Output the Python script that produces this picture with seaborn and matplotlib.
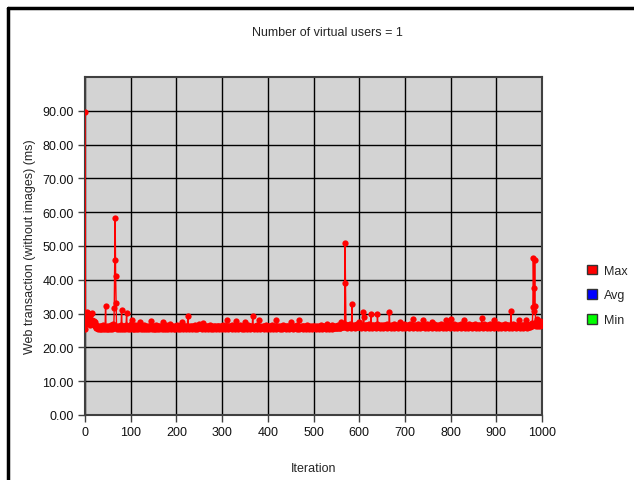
import numpy as np
import pandas as pd
import matplotlib
matplotlib.use("Agg")
import matplotlib.pyplot as plt
from matplotlib.patches import Patch
from matplotlib.lines import Line2D
import seaborn as sns

# web transaction time (ms) per iteration, 25 per row
max_ms = [
    89.7, 25.5, 27.0, 28.5, 30.4, 29.0, 27.5, 30.2, 28.0, 29.5, 27.0, 28.5, 26.5, 29.8, 27.5, 30.1, 28.0, 26.8, 27.8, 26.5, 27.9, 26.2, 27.5, 26.0, 25.8,
    26.5, 25.6, 26.1, 25.4, 26.3, 25.7, 26.0, 25.5, 26.4, 25.8, 25.3, 26.2, 25.6, 26.0, 25.4, 26.5, 25.7, 25.9, 25.5, 26.1, 32.2, 25.6, 26.0, 25.4, 26.3,
    25.8, 25.5, 26.2, 25.6, 26.0, 25.4, 26.6, 25.7, 25.9, 25.5, 26.3, 25.6, 26.8, 25.7, 31.6, 46.0, 58.2, 41.0, 33.0, 26.0, 25.5, 26.4, 25.7, 26.1, 25.5,
    26.2, 25.6, 26.0, 25.4, 26.5, 31.0, 25.7, 26.1, 25.5, 26.3, 25.8, 26.0, 25.4, 26.2, 25.6, 26.7, 30.3, 25.8, 26.1, 25.5, 26.4, 25.7, 26.0, 25.4, 26.3,
    25.6, 26.9, 26.0, 28.2, 25.5, 26.3, 25.7, 26.0, 25.4, 26.5, 25.8, 26.1, 25.5, 26.2, 25.6, 26.0, 25.4, 26.6, 25.7, 26.1, 27.5, 25.6, 26.2, 25.5, 26.0,
    25.7, 26.3, 25.4, 26.0, 25.6, 26.5, 25.5, 26.1, 25.8, 26.2, 25.4, 26.0, 25.6, 26.4, 25.5, 26.1, 25.7, 26.3, 25.6, 26.0, 27.7, 25.5, 26.2, 25.7, 26.0,
    25.4, 26.3, 25.6, 26.1, 25.5, 26.6, 25.7, 26.0, 25.4, 26.2, 25.8, 26.0, 25.5, 26.4, 25.6, 26.1, 25.7, 26.2, 25.5, 26.0, 27.4, 25.6, 26.3, 25.5, 26.0,
    25.7, 26.2, 25.4, 26.5, 25.6, 26.0, 25.5, 26.3, 25.7, 26.1, 27.0, 25.6, 26.2, 25.5, 26.0, 25.8, 26.4, 25.6, 26.1, 25.5, 26.3, 25.7, 26.0, 25.4, 26.2,
    25.6, 26.5, 25.7, 26.0, 25.5, 26.3, 25.8, 26.1, 25.4, 26.2, 25.6, 26.6, 27.5, 25.7, 26.2, 25.5, 26.0, 25.6, 26.4, 25.7, 26.1, 25.5, 26.3, 25.6, 26.0,
    29.4, 25.7, 26.2, 25.5, 26.1, 25.6, 26.4, 25.7, 26.0, 25.5, 26.3, 25.8, 26.1, 25.6, 26.2, 25.5, 26.5, 25.7, 26.0, 25.6, 26.3, 25.5, 26.1, 25.7, 26.2,
    27.0, 25.8, 26.4, 25.6, 26.1, 25.7, 26.3, 25.5, 27.1, 25.6, 26.2, 25.7, 26.0, 25.5, 26.4, 25.6, 26.1, 25.8, 26.3, 25.5, 26.0, 25.7, 26.2, 25.6, 26.5,
    25.5, 26.1, 25.7, 26.3, 25.6, 26.0, 25.5, 26.4, 25.7, 26.2, 25.6, 26.1, 25.5, 26.3, 25.8, 26.0, 25.6, 26.2, 25.5, 26.4, 25.7, 26.1, 25.6, 26.3, 25.5,
    26.2, 25.7, 26.6, 25.6, 26.1, 25.8, 26.3, 25.5, 26.0, 25.7, 28.0, 25.6, 26.2, 25.5, 26.4, 25.7, 26.1, 25.6, 26.3, 25.8, 26.0, 25.5, 26.5, 25.7, 26.2,
    25.6, 26.1, 25.7, 26.4, 25.5, 27.8, 25.6, 26.2, 25.7, 26.0, 25.5, 26.3, 25.8, 26.1, 25.6, 26.5, 25.7, 26.2, 25.5, 26.0, 25.6, 26.4, 25.7, 26.1, 25.5,
    27.5, 25.6, 26.2, 25.7, 26.0, 25.5, 26.6, 25.8, 26.1, 25.6, 26.3, 25.5, 26.2, 25.7, 26.0, 25.6, 26.4, 29.2, 25.7, 26.1, 25.5, 26.3, 25.6, 26.0, 25.8,
    26.2, 25.5, 26.5, 25.7, 26.1, 25.6, 28.0, 25.7, 26.3, 25.5, 26.1, 25.8, 26.0, 25.6, 26.4, 25.7, 26.2, 25.5, 26.0, 25.6, 26.6, 25.7, 26.1, 25.5, 26.3,
    25.7, 26.0, 25.6, 26.4, 25.5, 26.2, 25.8, 26.1, 25.6, 26.5, 25.7, 26.0, 25.5, 26.3, 25.6, 26.1, 25.7, 26.2, 25.5, 28.2, 25.8, 26.3, 25.6, 26.0, 25.7,
    26.4, 25.5, 26.1, 25.7, 26.2, 25.6, 26.0, 25.5, 26.5, 25.7, 26.1, 25.6, 26.3, 25.8, 26.0, 25.5, 26.2, 25.7, 26.4, 25.6, 26.1, 25.5, 26.3, 25.7, 26.0,
    27.5, 25.6, 26.2, 25.7, 26.0, 25.5, 26.4, 25.8, 26.1, 25.6, 26.3, 25.7, 26.0, 25.5, 26.6, 25.7, 26.2, 25.6, 28.0, 25.5, 26.1, 25.7, 26.3, 25.6, 26.0,
    25.8, 26.2, 25.5, 26.4, 25.7, 26.1, 25.6, 26.3, 25.5, 26.0, 25.7, 26.5, 25.6, 26.1, 25.8, 26.2, 25.5, 26.0, 25.7, 26.3, 25.6, 26.1, 25.5, 26.4, 25.7,
    26.0, 25.6, 26.2, 25.7, 26.1, 25.5, 26.3, 25.8, 26.0, 25.6, 26.4, 25.7, 26.1, 25.5, 26.2, 25.6, 26.5, 25.7, 26.0, 25.5, 26.3, 25.8, 26.1, 25.6, 26.2,
    25.7, 26.0, 25.5, 26.4, 25.6, 27.0, 25.7, 26.2, 25.5, 26.1, 25.8, 26.3, 25.6, 26.0, 25.7, 26.5, 25.5, 26.2, 25.6, 26.1, 25.7, 26.3, 25.8, 26.0, 25.6,
    26.4, 25.7, 26.2, 25.8, 26.5, 25.9, 26.3, 25.7, 26.6, 25.8, 27.5, 26.0, 26.4, 25.9, 26.7, 26.1, 26.5, 25.9, 26.8, 51.0, 39.0, 26.0, 26.6, 25.8, 26.4,
    26.1, 26.7, 25.9, 26.5, 26.0, 26.8, 25.8, 26.4, 26.1, 32.8, 26.0, 26.6, 25.9, 26.3, 26.1, 26.7, 25.8, 26.5, 26.0, 26.4, 25.9, 26.8, 26.1, 26.3, 25.9,
    27.5, 26.0, 26.6, 25.8, 26.4, 26.1, 26.7, 25.9, 26.3, 30.6, 29.0, 26.0, 26.5, 25.8, 26.7, 26.1, 26.4, 25.9, 26.6, 26.0, 26.3, 25.8, 26.8, 26.1, 26.4,
    25.9, 30.0, 26.0, 26.5, 25.8, 26.7, 26.1, 26.3, 25.9, 26.6, 26.0, 26.4, 25.8, 26.8, 26.1, 29.8, 25.9, 26.5, 26.0, 26.3, 25.8, 26.7, 26.1, 26.4, 25.9,
    26.6, 26.0, 26.3, 25.8, 26.7, 26.1, 26.5, 25.9, 26.4, 26.0, 26.8, 25.8, 26.3, 26.1, 26.6, 25.9, 30.5, 26.0, 26.4, 25.8, 26.7, 26.1, 26.3, 25.9, 26.5,
    26.0, 26.8, 25.8, 26.4, 26.1, 26.6, 25.9, 26.3, 26.0, 26.7, 25.8, 26.5, 26.1, 26.3, 25.9, 27.5, 26.0, 26.4, 25.8, 26.6, 26.1, 26.3, 25.9, 26.8, 26.0,
    26.4, 25.8, 26.7, 26.1, 26.3, 25.9, 26.5, 26.0, 26.6, 25.8, 26.4, 26.1, 26.8, 25.9, 26.3, 26.0, 26.5, 28.5, 25.8, 26.6, 26.1, 26.4, 25.9, 26.7, 26.0,
    26.3, 25.8, 26.5, 26.1, 26.8, 25.9, 26.4, 26.0, 26.6, 25.8, 26.3, 26.1, 26.7, 25.9, 26.5, 28.0, 26.0, 26.4, 25.8, 26.6, 26.1, 26.3, 25.9, 26.8, 26.0,
    26.5, 25.8, 26.4, 26.1, 26.7, 25.9, 26.3, 26.0, 26.6, 25.8, 27.5, 26.1, 26.4, 25.9, 26.8, 26.0, 26.5, 25.8, 26.3, 26.1, 26.7, 25.9, 26.4, 26.0, 26.6,
    25.8, 26.3, 26.1, 26.8, 25.9, 26.5, 26.0, 26.4, 25.8, 26.7, 26.1, 26.3, 25.9, 26.6, 26.0, 28.0, 25.8, 26.4, 26.1, 26.5, 25.9, 26.8, 26.0, 26.3, 25.8,
    28.3, 26.1, 26.4, 25.9, 26.6, 26.0, 26.3, 25.8, 26.8, 26.1, 26.5, 25.9, 26.4, 26.0, 26.7, 25.8, 26.3, 26.1, 26.6, 25.9, 26.5, 26.0, 26.8, 25.8, 26.4,
    26.1, 26.3, 25.9, 26.7, 26.0, 28.0, 25.8, 26.5, 26.1, 26.4, 25.9, 26.6, 26.0, 26.3, 25.8, 26.8, 26.1, 26.5, 25.9, 26.4, 26.0, 26.7, 25.8, 26.3, 26.1,
    26.6, 25.9, 26.5, 26.0, 26.8, 25.8, 26.4, 26.1, 26.3, 25.9, 26.7, 26.0, 26.5, 25.8, 26.4, 26.1, 26.6, 25.9, 28.7, 26.0, 26.3, 25.8, 26.8, 26.1, 26.5,
    25.9, 26.4, 26.0, 26.7, 25.8, 26.3, 26.1, 26.6, 25.9, 26.5, 26.0, 26.8, 25.8, 26.4, 26.1, 26.3, 25.9, 26.7, 26.0, 28.2, 25.8, 26.5, 26.1, 26.4, 25.9,
    26.6, 26.0, 26.3, 25.8, 26.8, 26.1, 26.5, 25.9, 26.4, 26.0, 26.7, 25.8, 26.3, 26.1, 26.6, 25.9, 26.5, 26.0, 26.8, 25.8, 26.4, 26.1, 26.3, 25.9, 26.7,
    26.0, 26.5, 25.8, 26.4, 26.1, 26.6, 25.9, 30.8, 26.0, 26.3, 25.8, 26.8, 26.1, 26.5, 25.9, 26.4, 26.0, 26.7, 25.8, 26.3, 26.1, 26.6, 25.9, 26.5, 26.0,
    28.0, 25.8, 26.4, 26.1, 26.3, 25.9, 26.7, 26.0, 26.5, 25.8, 26.4, 26.1, 26.6, 25.9, 26.8, 28.0, 26.0, 26.3, 25.8, 26.5, 26.1, 26.7, 25.9, 26.4, 26.0,
    26.6, 26.2, 26.9, 26.3, 27.2, 32.0, 46.5, 37.7, 30.8, 45.9, 32.3, 27.5, 26.4, 27.0, 26.6, 28.5, 26.3, 27.1, 26.5, 26.8, 27.8, 26.4, 27.0, 26.6, 27.2,
]
iterations = list(range(len(max_ms)))

series_names = ["Max", "Avg", "Min"]
series_colors = ["#ff0000", "#0000ff", "#00ff00"]
y_ticks = [0, 10, 20, 30, 40, 50, 60, 70, 80, 90]
x_ticks = list(range(0, 1001, 100))

df = pd.DataFrame({"iteration": iterations, "ms": max_ms})

sns.set_style("white")
plt.rcParams["font.family"] = ["Liberation Sans", "DejaVu Sans"]
plt.rcParams["font.size"] = 9

fig = plt.figure(figsize=(6.34, 4.81), dpi=100)
ax = fig.add_axes([85 / 634, 1 - 416 / 481, (542 - 85) / 634, (416 - 78) / 481])
ax.set_facecolor("#d3d3d3")

sns.lineplot(data=df, x="iteration", y="ms", ax=ax, color="#ff0000",
             linewidth=1.0, marker="o", markersize=4.5, markeredgewidth=0,
             errorbar=None, sort=False, zorder=3)

ax.set_xlim(0, 1000)
ax.set_ylim(0, 100)
ax.set_xticks(x_ticks)
ax.set_yticks(y_ticks)
ax.set_yticklabels([f"{v:.2f}" for v in y_ticks])
ax.grid(True, color="black", linewidth=1.0, zorder=1)
ax.set_axisbelow(True)
for s in ax.spines.values():
    s.set_color("#404040")
    s.set_linewidth(1.5)
ax.tick_params(axis="both", direction="out", length=5, width=1, color="#404040",
               labelsize=9, labelcolor="#111111", pad=3, left=True, bottom=True)

ax.set_xlabel("Iteration", fontsize=9, labelpad=17)
ax.set_ylabel("Web transaction (without images) (ms)", fontsize=9, labelpad=5)

fig.text(327 / 634, 1 - 33 / 481, "Number of virtual users = 1", ha="center",
         va="center", fontsize=9)

handles = [Patch(facecolor=c, edgecolor="#333333", linewidth=1) for c in series_colors]
fig.legend(handles, series_names, loc="upper left",
           bbox_to_anchor=(583 / 634, 1 - 262 / 481), frameon=False, fontsize=9,
           handlelength=0.8, handleheight=0.8, handletextpad=0.6, labelspacing=1.0,
           borderaxespad=0, borderpad=0.3)

# window frame (top and left edges)
fig.add_artist(Line2D([8 / 634, 1], [1 - 9 / 481, 1 - 9 / 481], color="black", linewidth=2.5))
fig.add_artist(Line2D([8 / 634, 8 / 634], [0, 1 - 9 / 481], color="black", linewidth=2.5))

fig.savefig("out.png", dpi=100)
